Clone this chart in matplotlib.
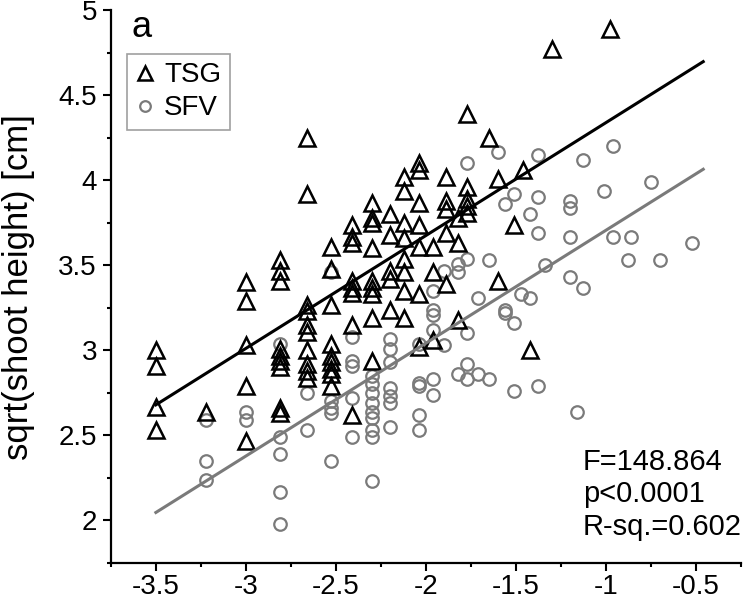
import numpy as np
import matplotlib
matplotlib.use('Agg')
import matplotlib.pyplot as plt
from matplotlib.ticker import MultipleLocator

plt.rcParams['font.family'] = ['Liberation Sans', 'DejaVu Sans']

# TSG (triangles): x value, list of y values in that column
tsg_cols = [
    (-3.50, [3.00, 2.91, 2.67, 2.53]),
    (-3.22, [2.64]),
    (-3.00, [3.40, 3.29, 3.03, 2.79, 2.47]),
    (-2.81, [3.53, 3.47, 3.41, 3.01, 2.97, 2.94, 2.90, 2.66, 2.63]),
    (-2.66, [4.25, 3.92, 3.27, 3.23, 3.15, 3.11, 3.00, 2.92, 2.88, 2.84]),
    (-2.53, [3.61, 3.48, 3.27, 3.04, 2.97, 2.93, 2.89, 2.86, 2.79]),
    (-2.41, [3.74, 3.67, 3.63, 3.41, 3.37, 3.34, 3.15, 2.62]),
    (-2.30, [3.87, 3.78, 3.75, 3.60, 3.41, 3.37, 3.33, 3.19, 2.94]),
    (-2.20, [3.80, 3.68, 3.47, 3.42, 3.24]),
    (-2.12, [4.02, 3.94, 3.75, 3.66, 3.54, 3.46, 3.35, 3.19]),
    (-2.04, [4.10, 4.06, 3.87, 3.74, 3.61, 3.33, 3.02]),
    (-1.96, [3.61, 3.46, 3.06]),
    (-1.89, [4.02, 3.88, 3.83, 3.69, 3.39]),
    (-1.82, [3.78, 3.63, 3.18]),
    (-1.77, [4.39, 3.96, 3.89, 3.85, 3.81]),
    (-1.65, [4.25]),
    (-1.60, [4.01, 3.41]),
    (-1.51, [3.74]),
    (-1.46, [4.06]),
    (-1.42, [3.00]),
    (-1.30, [4.77]),
    (-0.98, [4.89]),
]

# SFV (circles)
sfv_cols = [
    (-3.22, [2.59, 2.35, 2.24]),
    (-3.00, [2.64, 2.59]),
    (-2.81, [3.04, 2.49, 2.39, 2.17, 1.98]),
    (-2.66, [2.75, 2.53]),
    (-2.53, [3.46, 2.70, 2.66, 2.63, 2.35]),
    (-2.41, [3.08, 2.94, 2.91, 2.72, 2.49]),
    (-2.30, [2.85, 2.80, 2.75, 2.69, 2.64, 2.60, 2.53, 2.49, 2.23]),
    (-2.20, [3.07, 3.01, 2.93, 2.78, 2.73, 2.69, 2.55]),
    (-2.04, [3.04, 2.81, 2.79, 2.62, 2.53]),
    (-1.96, [3.35, 3.24, 3.21, 3.12, 2.83, 2.74]),
    (-1.90, [3.47, 3.03]),
    (-1.82, [3.51, 3.46, 2.86]),
    (-1.77, [4.10, 3.54, 3.10, 2.92, 2.83]),
    (-1.71, [3.31, 2.86]),
    (-1.65, [3.53, 2.83]),
    (-1.60, [4.17]),
    (-1.56, [3.86, 3.24, 3.22]),
    (-1.51, [3.92, 3.16, 2.76]),
    (-1.47, [3.33]),
    (-1.42, [3.80, 3.31]),
    (-1.38, [4.15, 3.90, 3.69, 2.79]),
    (-1.34, [3.50]),
    (-1.20, [3.88, 3.84, 3.67, 3.43]),
    (-1.13, [4.12, 3.37]),
    (-1.16, [2.64]),
    (-1.01, [3.94]),
    (-0.96, [4.20, 3.67]),
    (-0.88, [3.53]),
    (-0.86, [3.67]),
    (-0.75, [3.99]),
    (-0.70, [3.53]),
    (-0.52, [3.63]),
]

# common-slope fit lines (ANCOVA)
fit_slope = 0.664
tsg_intercept = 5.004
sfv_intercept = 4.371
fit_x = np.array([-3.5, -0.46])

stats_text = 'F=148.864\np<0.0001\nR-sq.=0.602'


def flatten(cols):
    xs, ys = [], []
    for x, vals in cols:
        xs += [x] * len(vals)
        ys += vals
    return np.array(xs), np.array(ys)


tsg_x, tsg_y = flatten(tsg_cols)
sfv_x, sfv_y = flatten(sfv_cols)

gray = '#7a7a7a'

fig = plt.figure(figsize=(7.44, 6), dpi=100)
ax = fig.add_axes([0.149, 0.0617, 0.847, 0.921])

ax.plot(sfv_x, sfv_y, 'o', ms=9, mfc='none', mec=gray, mew=1.6, label='SFV', zorder=2)
ax.plot(tsg_x, tsg_y, '^', ms=12, mfc='none', mec='black', mew=1.8, label='TSG', zorder=3)

ax.plot(fit_x, tsg_intercept + fit_slope * fit_x, color='black', lw=2.2, zorder=4)
ax.plot(fit_x, sfv_intercept + fit_slope * fit_x, color=gray, lw=2.2, zorder=4)

ax.set_xlim(-3.75, -0.25)
ax.set_ylim(1.75, 5.0)
ax.xaxis.set_minor_locator(MultipleLocator(0.25))
ax.yaxis.set_minor_locator(MultipleLocator(0.25))
ax.set_xticks(np.arange(-3.5, -0.4, 0.5))
ax.set_xticklabels(['-3.5', '-3', '-2.5', '-2', '-1.5', '-1', '-0.5'])
ax.set_yticks(np.arange(2.0, 5.01, 0.5))
ax.set_yticklabels(['2', '2.5', '3', '3.5', '4', '4.5', '5'])

ax.tick_params(which='major', direction='out', length=6, width=1.5, labelsize=20, pad=4)
ax.tick_params(axis='x', which='major', pad=2)
ax.tick_params(which='minor', direction='out', length=3, width=1.5)
for s in ['top', 'right']:
    ax.spines[s].set_visible(False)
for s in ['left', 'bottom']:
    ax.spines[s].set_linewidth(1.6)

ax.set_ylabel('sqrt(shoot height) [cm]', fontsize=25)
ax.yaxis.set_label_coords(-0.121, 0.5)

handles, labels = ax.get_legend_handles_labels()
leg = ax.legend(handles[::-1], labels[::-1], loc='upper left', bbox_to_anchor=(0.025, 0.921),
                fontsize=20, frameon=True, fancybox=False, edgecolor='#888888',
                markerscale=0.85, handlelength=0.7, handletextpad=0.35,
                borderpad=0.3, labelspacing=0.25, borderaxespad=0)
leg.get_frame().set_linewidth(1.2)

ax.text(0.032, 0.952, 'a', transform=ax.transAxes, fontsize=26, va='baseline', ha='left')
ax.text(0.749, 0.208, stats_text, transform=ax.transAxes, fontsize=21,
        va='top', ha='left', linespacing=1.2)

fig.savefig('out.png', dpi=100)
plt.close(fig)
